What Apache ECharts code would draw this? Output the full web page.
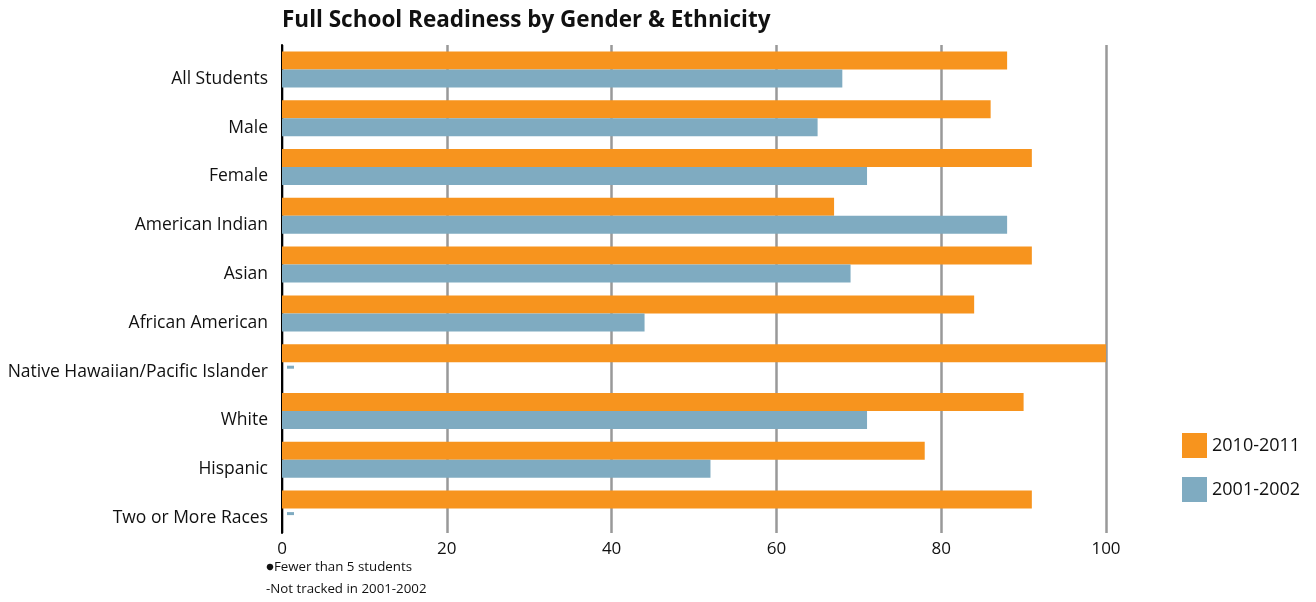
<!DOCTYPE html>
<html><head><meta charset="utf-8">
<script src="https://cdn.jsdelivr.net/npm/echarts@6/dist/echarts.min.js"></script>
<style>html,body{margin:0;padding:0;background:#fff}#c{width:1316px;height:602px}</style>
</head><body><div id="c"></div>
<script>
const categories = ["All Students","Male","Female","American Indian","Asian","African American","Native Hawaiian/Pacific Islander","White","Hispanic","Two or More Races"];
const values2010 = [88,86,91,67,91,84,100,90,78,91];
const values2001 = [68,65,71,88,69,44,null,71,52,null]; // null = not tracked in 2001-2002
const xTicks = [0,20,40,60,80,100];
const seriesNames = ["2010-2011","2001-2002"];
const footnotes = ["\u25CFFewer than 5 students","-Not tracked in 2001-2002"];

const ORANGE = '#f7941e', BLUE = '#7fabc1';
const FONT = '"Open Sans", Lato, sans-serif';

const blueData = values2001.map(v => v === null
  ? {value: 0, label: {show: true, position: 'right', distance: 5, offset: [0, -4], formatter: '{d|}', rich: {d: {width: 7, height: 3, backgroundColor: BLUE}}}}
  : v);

const chart = echarts.init(document.getElementById('c'), null, {renderer: 'canvas'});
chart.setOption({
  animation: false,
  title: {text: 'Full School Readiness by Gender & Ethnicity', left: 277, top: 4,
    textStyle: {fontFamily: FONT, fontWeight: 'bold', fontSize: 22.5, color: '#111'}},
  legend: {orient: 'vertical', left: 1182, top: 433, itemWidth: 25, itemHeight: 25, itemGap: 19,
    padding: 0, icon: 'rect', data: seriesNames,
    textStyle: {fontFamily: FONT, fontSize: 18, color: '#111'}},
  grid: {left: 282, right: 210, top: 45, bottom: 69, containLabel: false},
  xAxis: {type: 'value', min: xTicks[0], max: xTicks[xTicks.length-1], interval: 20,
    axisLine: {show: false}, axisTick: {show: false},
    splitLine: {show: true, lineStyle: {color: '#999', width: 2.5}},
    axisLabel: {fontFamily: FONT, fontSize: 17, color: '#111', margin: 8}},
  yAxis: {type: 'category', data: categories, inverse: true,
    axisLine: {show: true, lineStyle: {color: '#000', width: 2}}, axisTick: {show: false},
    axisLabel: {fontFamily: FONT, fontSize: 17.5, color: '#111', margin: 14, verticalAlign: 'top', lineHeight: 19}},
  series: [
    {name: seriesNames[0], type: 'bar', data: values2010, itemStyle: {color: ORANGE},
      barWidth: 18, barGap: '0%'},
    {name: seriesNames[1], type: 'bar', data: blueData, itemStyle: {color: BLUE},
      barWidth: 18, barGap: '0%'}
  ],
  graphic: footnotes.map((t, i) => ({type: 'text', left: 266, top: 561 + i*22,
    style: {text: t, font: '13.3px ' + FONT, fill: '#111'}}))
});
</script></body></html>
